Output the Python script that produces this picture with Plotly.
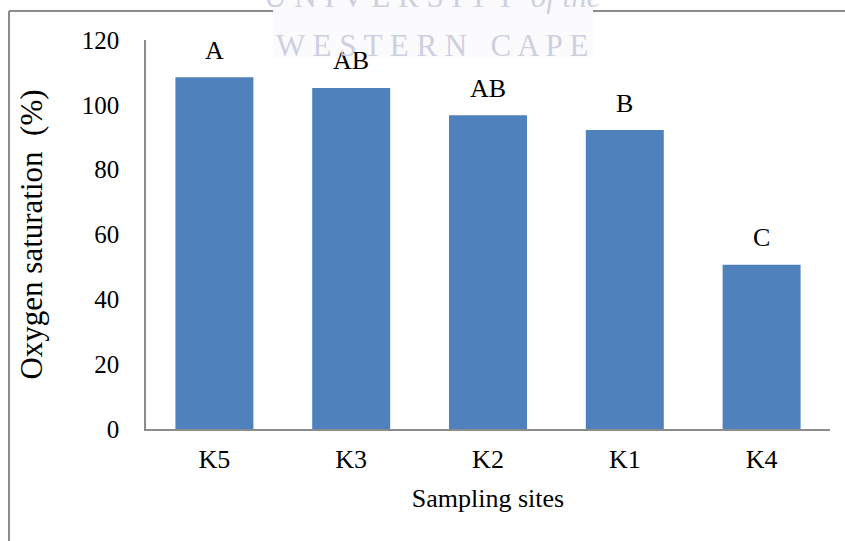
import plotly.graph_objects as go

sites = ["K5", "K3", "K2", "K1", "K4"]
saturation = [108.5, 105.2, 96.8, 92.2, 50.7]
groups = ["A", "AB", "AB", "B", "C"]
y_ticks = [0, 20, 40, 60, 80, 100, 120]

W, H = 845, 541
L, R, T, B = 146, 15, 40, 112
pw, ph = W - L - R, H - T - B

def px(x):
    return (x - L) / pw

def py(y):
    return (H - B - y) / ph

font = "Liberation Serif, Times New Roman, serif"

fig = go.Figure(go.Bar(
    x=sites, y=saturation, marker_color="#4f81bd", marker_line_width=0,
    width=0.57,
))

for s, v, g in zip(sites, saturation, groups):
    fig.add_annotation(x=s, y=v, text=g, showarrow=False, yanchor="middle",
                       yshift=27, font=dict(family=font, size=26, color="black"))

# frame border
fig.add_shape(type="line", xref="paper", yref="paper", x0=px(9), x1=px(846), y0=py(11), y1=py(11),
              line=dict(color="#8c8c8c", width=2), layer="above")
fig.add_shape(type="line", xref="paper", yref="paper", x0=px(9), x1=px(9), y0=py(11), y1=py(545),
              line=dict(color="#8c8c8c", width=2), layer="above")
# watermark box
fig.add_shape(type="rect", xref="paper", yref="paper", x0=px(273), x1=px(593), y0=py(-10), y1=py(58),
              fillcolor="#fbfbfd", line_width=0, layer="above")

# watermark
fig.add_annotation(xref="paper", yref="paper", x=px(432), y=py(45), text="W E S T E R N   C A P E",
                   xanchor="center", yanchor="middle",
                   showarrow=False, font=dict(family=font, size=31, color="#cdd0df"))
fig.add_annotation(xref="paper", yref="paper", x=px(432), y=py(-3), text="U N I V E R S I T Y  <i>of the</i>",
                   xanchor="center", yanchor="middle",
                   showarrow=False, font=dict(family=font, size=31, color="#cdd0df"))

fig.update_layout(
    width=W, height=H,
    margin=dict(l=L, r=R, t=T, b=B, autoexpand=False),
    paper_bgcolor="white", plot_bgcolor="rgba(0,0,0,0)",
    showlegend=False,
    font=dict(family=font, size=26, color="black"),
)
fig.update_xaxes(
    showline=True, linecolor="#8c8c8c", linewidth=1.5, showgrid=False,
    ticks="", ticklabelstandoff=6, tickfont=dict(family=font, size=26),
    title=dict(text="Sampling sites", font=dict(family=font, size=26), standoff=16),
)
fig.update_yaxes(
    range=[0, 120], tickvals=y_ticks, showline=True, linecolor="#8c8c8c", linewidth=1.5,
    showgrid=False, zeroline=False, ticks="", ticklabelstandoff=20,
    tickfont=dict(family=font, size=25),
    title=dict(text="Oxygen saturation  (%)", font=dict(family=font, size=31), standoff=30),
)

fig.write_html("out.html", config={"displayModeBar": False},
               post_script="document.body.style.margin='0px';document.body.style.overflow='hidden';")
